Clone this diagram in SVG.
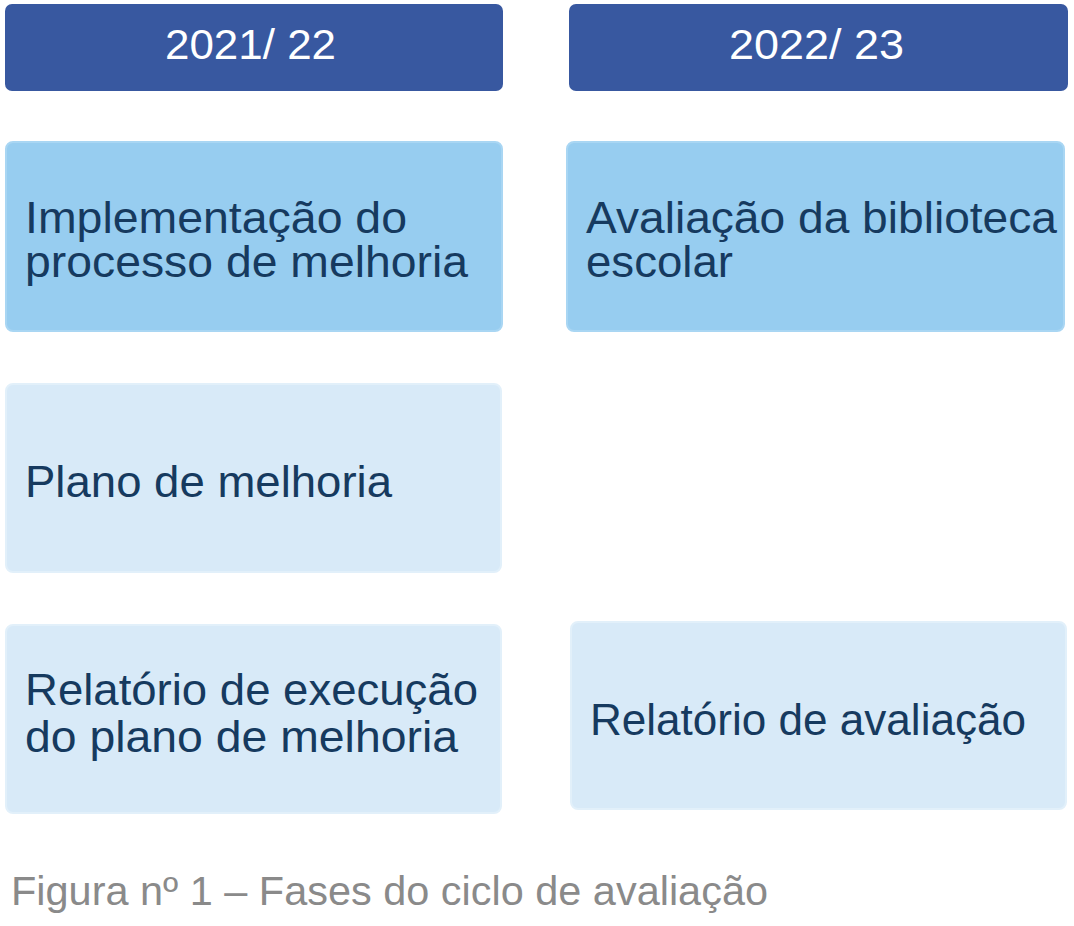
<svg xmlns="http://www.w3.org/2000/svg" width="1074" height="926" viewBox="0 0 1074 926">
<style>
.hdr{fill:#3858a0}
.mid{fill:#97cdf0;stroke:#a9d6f3;stroke-width:2}
.lt{fill:#d8eaf8;stroke:#e2f0fa;stroke-width:2}
.ht{font-family:"Liberation Sans",Arial,sans-serif;font-size:42px;fill:#ffffff}
.bt{font-family:"Liberation Sans",Arial,sans-serif;font-size:45px;fill:#163a5f}
.cap{font-family:"Liberation Sans",Arial,sans-serif;font-size:40px;fill:#8a8a8a}
</style>
<rect width="1074" height="926" fill="#ffffff"/>
<g id="header-2021">
<rect class="hdr" x="5" y="4" width="498" height="87" rx="7"/>
<text class="ht" x="165" y="59" textLength="171" lengthAdjust="spacingAndGlyphs">2021/ 22</text>
</g>
<g id="header-2022">
<rect class="hdr" x="569" y="4" width="499" height="87" rx="7"/>
<text class="ht" x="729" y="59" textLength="175" lengthAdjust="spacingAndGlyphs">2022/ 23</text>
</g>
<g id="node-implementacao">
<rect class="mid" x="6" y="142" width="496" height="189" rx="7"/>
<text class="bt" x="25" y="233" textLength="382" lengthAdjust="spacingAndGlyphs">Implementação do</text>
<text class="bt" x="25" y="277" textLength="443" lengthAdjust="spacingAndGlyphs">processo de melhoria</text>
</g>
<g id="node-avaliacao">
<rect class="mid" x="567" y="142" width="497" height="189" rx="7"/>
<text class="bt" x="586" y="233" textLength="471" lengthAdjust="spacingAndGlyphs">Avaliação da biblioteca</text>
<text class="bt" x="586" y="277" textLength="147" lengthAdjust="spacingAndGlyphs">escolar</text>
</g>
<g id="node-plano">
<rect class="lt" x="6" y="384" width="495" height="188" rx="7"/>
<text class="bt" x="25" y="497" textLength="367" lengthAdjust="spacingAndGlyphs">Plano de melhoria</text>
</g>
<g id="node-relatorio-execucao">
<rect class="lt" x="6" y="625" width="495" height="188" rx="7"/>
<text class="bt" x="25" y="705" textLength="453" lengthAdjust="spacingAndGlyphs">Relatório de execução</text>
<text class="bt" x="25" y="752" textLength="433" lengthAdjust="spacingAndGlyphs">do plano de melhoria</text>
</g>
<g id="node-relatorio-avaliacao">
<rect class="lt" x="571" y="622" width="495" height="187" rx="7"/>
<text class="bt" x="590" y="735" textLength="436" lengthAdjust="spacingAndGlyphs">Relatório de avaliação</text>
</g>
<g id="connectors"></g>
<text class="cap" x="11" y="905" textLength="757" lengthAdjust="spacingAndGlyphs">Figura nº 1 – Fases do ciclo de avaliação</text>
</svg>
